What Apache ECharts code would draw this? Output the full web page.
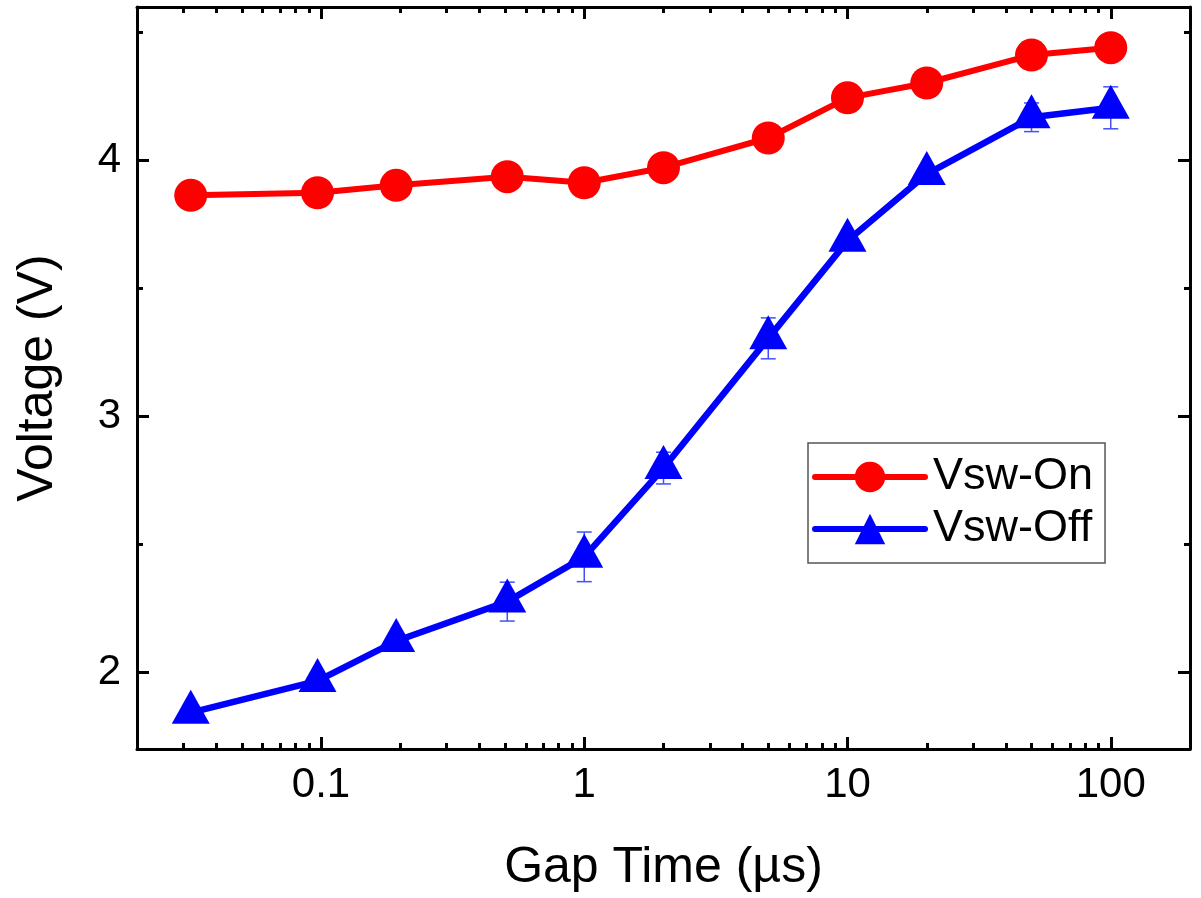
<!DOCTYPE html>
<html>
<head>
<meta charset="utf-8">
<script src="https://cdn.jsdelivr.net/npm/echarts@6/dist/echarts.min.js"></script>
<style>
html,body{margin:0;padding:0;background:#fff;}
#chart{width:1201px;height:898px;}
</style>
</head>
<body>
<div id="chart"></div>
<script>
// Gap time (µs)
const gapTime = [0.032, 0.097, 0.193, 0.51, 1, 2, 5, 10, 20, 50, 100];
// Vsw-On voltage (V)
const vswOn = [3.864, 3.874, 3.903, 3.937, 3.913, 3.972, 4.088, 4.245, 4.303, 4.412, 4.441];
// Vsw-Off voltage (V)
const vswOff = [1.842, 1.966, 2.122, 2.276, 2.451, 2.798, 3.305, 3.686, 3.947, 4.169, 4.206];
// Vsw-Off error (± V)
const vswOffErr = [0.03, 0.03, 0.03, 0.076, 0.097, 0.062, 0.08, 0.03, 0.03, 0.056, 0.082];

// Axis ticks
const xMajorTicks = [0.1, 1, 10, 100];
const xMinorTicks = [0.03, 0.04, 0.05, 0.06, 0.07, 0.08, 0.09,
                     0.2, 0.3, 0.4, 0.5, 0.6, 0.7, 0.8, 0.9,
                     2, 3, 4, 5, 6, 7, 8, 9,
                     20, 30, 40, 50, 60, 70, 80, 90];
const yMajorTicks = [2, 3, 4];
const yMinorTicks = [2.5, 3.5, 4.5];

const FONT = 'Arial, "Liberation Sans", sans-serif';
const X_MIN = 0.02, X_MAX = 200, Y_MIN = 1.7, Y_MAX = 4.6;

const chart = echarts.init(document.getElementById('chart'), null, {renderer: 'canvas'});

function xAxisDef(pos, ticks, len, withLine, withLabel, name) {
  return {
    type: 'log', logBase: 10, position: pos, min: X_MIN, max: X_MAX,
    name: name || '', nameLocation: 'middle', nameGap: 94,
    nameTextStyle: {fontFamily: FONT, fontSize: 50, color: '#000'},
    axisLine: {show: withLine, onZero: false, lineStyle: {color: '#000', width: 3}},
    axisTick: {show: true, inside: true, length: len, customValues: ticks,
               lineStyle: {color: '#000', width: 3}},
    axisLabel: {show: withLabel, customValues: ticks, margin: 15,
                fontFamily: FONT, fontSize: 42, color: '#000',
                formatter: function (v) { return String(v); }},
    splitLine: {show: false}, minorTick: {show: false}, minorSplitLine: {show: false}
  };
}
function yAxisDef(pos, ticks, len, withLine, withLabel, name) {
  return {
    type: 'value', position: pos, min: Y_MIN, max: Y_MAX,
    name: name || '', nameLocation: 'middle', nameGap: 74,
    nameTextStyle: {fontFamily: FONT, fontSize: 50, color: '#000'},
    axisLine: {show: withLine, onZero: false, lineStyle: {color: '#000', width: 3}},
    axisTick: {show: true, inside: true, length: len, customValues: ticks,
               lineStyle: {color: '#000', width: 3}},
    axisLabel: {show: withLabel, customValues: ticks, margin: 16,
                fontFamily: FONT, fontSize: 42, color: '#000'},
    splitLine: {show: false}
  };
}

const errData = gapTime.map((t, i) => [t, vswOff[i] - vswOffErr[i], vswOff[i] + vswOffErr[i]]);

const option = {
  backgroundColor: '#fff',
  animation: false,
  grid: {left: 137, right: 11, top: 7, bottom: 148, containLabel: false},
  xAxis: [
    xAxisDef('bottom', xMajorTicks, 12, true, true, 'Gap Time (µs)'),
    xAxisDef('bottom', xMinorTicks, 6, false, false),
    xAxisDef('top', xMajorTicks, 12, true, false),
    xAxisDef('top', xMinorTicks, 6, false, false)
  ],
  yAxis: [
    yAxisDef('left', yMajorTicks, 12, true, true, 'Voltage (V)'),
    yAxisDef('left', yMinorTicks, 6, false, false),
    yAxisDef('right', yMajorTicks, 12, true, false),
    yAxisDef('right', yMinorTicks, 6, false, false)
  ],
  legend: {
    orient: 'vertical', left: 808, top: 443,
    padding: [11, 12, 11, 4],
    itemGap: 6, itemWidth: 110, itemHeight: 38,
    borderColor: '#555', borderWidth: 1.5, backgroundColor: '#fff',
    lineStyle: {width: 6, cap: 'round'},
    textStyle: {fontFamily: FONT, fontSize: 45, color: '#000', lineHeight: 46, padding: [0, 0, 0, 3]},
    data: ['Vsw-On', 'Vsw-Off']
  },
  series: [
    {
      type: 'custom', name: 'errOff', xAxisIndex: 0, yAxisIndex: 0, z: 1,
      data: errData, silent: true,
      renderItem: function (params, api) {
        const x = api.value(0);
        const lo = api.coord([x, api.value(1)]);
        const hi = api.coord([x, api.value(2)]);
        const cap = 7.5;
        const st = {stroke: '#4050ff', lineWidth: 1.5};
        return {type: 'group', children: [
          {type: 'line', shape: {x1: lo[0], y1: lo[1], x2: hi[0], y2: hi[1]}, style: st},
          {type: 'line', shape: {x1: lo[0] - cap, y1: lo[1], x2: lo[0] + cap, y2: lo[1]}, style: st},
          {type: 'line', shape: {x1: hi[0] - cap, y1: hi[1], x2: hi[0] + cap, y2: hi[1]}, style: st}
        ]};
      }
    },
    {
      type: 'line', name: 'Vsw-On', xAxisIndex: 0, yAxisIndex: 0, z: 3,
      data: gapTime.map((t, i) => [t, vswOn[i]]),
      symbol: 'circle', symbolSize: 33,
      lineStyle: {color: '#ff0000', width: 6, cap: 'round'},
      itemStyle: {color: '#ff0000'},
      clip: false
    },
    {
      type: 'line', name: 'Vsw-Off', xAxisIndex: 0, yAxisIndex: 0, z: 2,
      data: gapTime.map((t, i) => [t, vswOff[i]]),
      symbol: 'triangle', symbolSize: [38, 34], symbolOffset: [0, -6],
      lineStyle: {color: '#0000ff', width: 6.5, cap: 'round'},
      itemStyle: {color: '#0000ff'},
      clip: false
    }
  ]
};
chart.setOption(option);
</script>
</body>
</html>
